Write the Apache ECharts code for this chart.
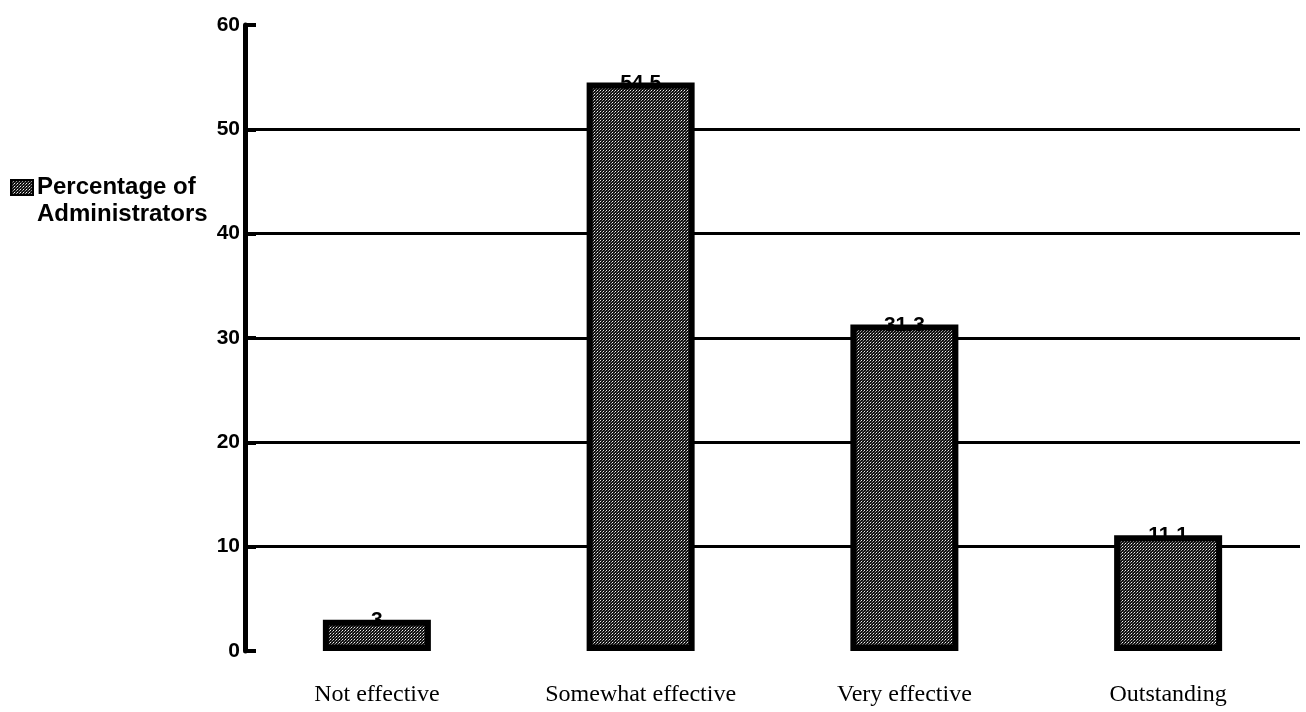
<!DOCTYPE html>
<html><head><meta charset="utf-8">
<script src="https://cdn.jsdelivr.net/npm/echarts@6/dist/echarts.min.js"></script>
<style>html,body{margin:0;padding:0;background:#fff}#c{width:1306px;height:712px}</style>
</head><body><div id="c"></div>
<script>
const categories = ['Not effective', 'Somewhat effective', 'Very effective', 'Outstanding'];
const values = [3, 54.5, 31.3, 11.1];
const seriesName = 'Percentage of Administrators';
const yTicks = [0, 10, 20, 30, 40, 50, 60];

// texture pattern for bars (black with light dots)
const pc = document.createElement('canvas');
pc.width = 3; pc.height = 3;
const px = pc.getContext('2d');
px.fillStyle = '#111'; px.fillRect(0,0,3,3);
px.fillStyle = '#f0f0f0'; px.fillRect(0,0,1,1);
px.fillStyle = '#9a9a9a'; px.fillRect(2,1,1,1);
px.fillStyle = '#555'; px.fillRect(1,2,1,1);

const chart = echarts.init(document.getElementById('c'));
chart.setOption({
  animation: false,
  backgroundColor: '#fff',
  grid: {left: 245, right: 6, top: 25, bottom: 61},
  legend: {
    left: 10, top: 147, orient: 'vertical', padding: 0,
    icon: 'rect', itemWidth: 22, itemHeight: 15, itemGap: 4,
    data: [seriesName],
    formatter: () => ' \nPercentage of\nAdministrators',
    textStyle: {fontFamily: 'Liberation Sans, Arial', fontSize: 24, fontWeight: 'bold', color: '#000', lineHeight: 27, padding: [0,0,0,-1]}
  },
  xAxis: {
    type: 'category', data: categories,
    axisLine: {show: false}, axisTick: {show: false},
    axisLabel: {margin: 32, fontFamily: 'Liberation Serif, Times New Roman', fontSize: 24, color: '#000', interval: 0}
  },
  yAxis: {
    type: 'value', min: yTicks[0], max: yTicks[yTicks.length-1], interval: 10,
    axisLine: {show: true, lineStyle: {color: '#000', width: 5}},
    axisTick: {show: true, inside: true, length: 11, lineStyle: {color: '#000', width: 4}},
    axisLabel: {margin: 5, fontFamily: 'Liberation Sans, Arial', fontSize: 21, fontWeight: 'bold', color: '#000'},
    splitLine: {show: true, lineStyle: {color: '#000', width: 3}, showMinLine: false, showMaxLine: false}
  },
  series: [{
    name: seriesName, type: 'bar', data: values, barWidth: 108,
    itemStyle: {color: {image: pc, repeat: 'repeat'}, borderColor: '#000', borderWidth: 6},
    label: {show: true, position: 'top', distance: -11, color: '#000',
      fontFamily: 'Liberation Sans, Arial', fontSize: 21, fontWeight: 'bold'}
  }]
});
</script></body></html>
